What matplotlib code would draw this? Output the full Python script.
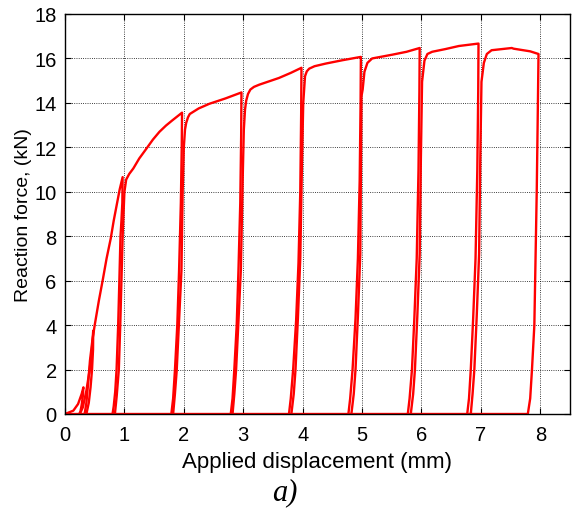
import numpy as np
import matplotlib
matplotlib.use('Agg')
from matplotlib import pyplot as plt

plt.rcParams['font.family'] = ['Liberation Sans', 'DejaVu Sans']

# applied displacement (mm) / reaction force (kN), one list per load cycle
c1_d = [0.00, 0.14, 0.22, 0.28, 0.31, 0.30, 0.28, 0.26, 0.24]
c1_f = [0.00, 0.15, 0.45, 0.90, 1.20, 0.80, 0.40, 0.12, 0.00]

c2_d = [0.25, 0.30, 0.36, 0.41, 0.45, 0.475, 0.472, 0.455, 0.43, 0.40, 0.36]
c2_f = [0.00, 0.30, 1.05, 1.90, 2.80, 3.75, 2.90, 2.00, 1.20, 0.50, 0.00]

c3_d = [0.33, 0.36, 0.39, 0.42, 0.46, 0.50, 0.57, 0.64, 0.70, 0.77, 0.82, 0.87, 0.92, 0.97,
        0.965, 0.95, 0.934, 0.915, 0.895, 0.868, 0.845, 0.82, 0.80]
c3_f = [0.00, 0.50, 1.40, 2.40, 3.30, 4.00, 5.10, 6.10, 7.00, 7.90, 8.70, 9.40, 10.10, 10.66,
        9.50, 8.70, 8.00, 6.00, 4.00, 2.00, 1.00, 0.35, 0.00]

c4_d = [0.84, 0.87, 0.906, 0.93, 0.97, 1.00, 1.03, 1.08, 1.15, 1.25, 1.37, 1.48, 1.59, 1.70, 1.80, 1.97,
        1.965, 1.95, 1.92, 1.89, 1.85, 1.82, 1.79]
c4_f = [0.00, 0.80, 2.00, 4.00, 8.00, 10.00, 10.55, 10.80, 11.05, 11.50, 11.94, 12.35, 12.70, 12.98, 13.20, 13.56,
        12.00, 9.50, 6.45, 4.00, 1.95, 0.70, 0.00]

c5_d = [1.82, 1.85, 1.88, 1.92, 1.96, 1.98, 2.00, 2.02, 2.04, 2.07, 2.10, 2.25, 2.43, 2.70, 2.97,
        2.965, 2.95, 2.92, 2.89, 2.85, 2.82, 2.79]
c5_f = [0.00, 0.90, 1.95, 4.20, 6.45, 10.00, 12.00, 12.80, 13.10, 13.35, 13.50, 13.75, 13.96, 14.20, 14.47,
        12.50, 9.50, 6.50, 4.00, 2.00, 0.70, 0.00]

c6_d = [2.82, 2.85, 2.88, 2.92, 2.96, 2.99, 3.01, 3.03, 3.05, 3.08, 3.12, 3.18, 3.27, 3.60, 3.80, 3.98,
        3.975, 3.96, 3.93, 3.89, 3.84, 3.80, 3.77]
c6_f = [0.00, 0.90, 2.00, 4.20, 6.50, 10.50, 12.80, 13.70, 14.10, 14.40, 14.60, 14.72, 14.82, 15.12, 15.35, 15.58,
        13.50, 10.00, 6.80, 4.20, 2.00, 0.70, 0.00]

c7_d = [3.81, 3.85, 3.88, 3.92, 3.96, 3.99, 4.01, 4.04, 4.07, 4.11, 4.20, 4.39, 4.67, 4.98,
        4.975, 4.96, 4.93, 4.89, 4.84, 4.80, 4.77]
c7_f = [0.00, 0.90, 2.00, 4.30, 7.00, 11.50, 14.00, 15.20, 15.42, 15.54, 15.65, 15.77, 15.92, 16.07,
        14.00, 10.50, 7.00, 4.30, 2.00, 0.70, 0.00]

c8_d = [4.82, 4.86, 4.89, 4.93, 4.97, 4.99, 5.01, 5.04, 5.09, 5.17, 5.51, 5.75, 5.97,
        5.965, 5.95, 5.92, 5.88, 5.84, 5.80, 5.77]
c8_f = [0.00, 0.90, 2.00, 4.40, 7.20, 14.30, 14.60, 15.40, 15.80, 16.00, 16.17, 16.30, 16.47,
        14.50, 11.00, 7.00, 4.30, 2.00, 0.70, 0.00]

c9_d = [5.82, 5.86, 5.89, 5.93, 5.97, 5.99, 6.01, 6.05, 6.10, 6.18, 6.40, 6.63, 6.96,
        6.955, 6.94, 6.91, 6.87, 6.83, 6.80, 6.77]
c9_f = [0.00, 0.90, 2.00, 4.40, 7.20, 11.50, 14.95, 15.90, 16.20, 16.30, 16.42, 16.56, 16.67,
        14.50, 11.00, 7.00, 4.30, 2.00, 0.70, 0.00]

c10_d = [6.83, 6.86, 6.89, 6.93, 6.97, 6.99, 7.01, 7.05, 7.10, 7.18, 7.35, 7.52, 7.55, 7.83, 7.97,
         7.955, 7.94, 7.92, 7.90, 7.86, 7.83, 7.79, 0.00]
c10_f = [0.00, 0.90, 2.00, 4.40, 7.20, 11.50, 14.95, 15.80, 16.20, 16.37, 16.42, 16.47, 16.44, 16.32, 16.20,
         13.00, 10.00, 7.00, 4.00, 2.00, 0.70, 0.00, 0.00]

cycles = [(c1_d, c1_f), (c2_d, c2_f), (c3_d, c3_f), (c4_d, c4_f), (c5_d, c5_f),
          (c6_d, c6_f), (c7_d, c7_f), (c8_d, c8_f), (c9_d, c9_f), (c10_d, c10_f)]

x_ticks = [0, 1, 2, 3, 4, 5, 6, 7, 8]
y_ticks = [0, 2, 4, 6, 8, 10, 12, 14, 16, 18]

fig = plt.figure(figsize=(5.72, 5.10), dpi=100)
ax = fig.add_axes([65/572, 95/510, 505/572, 400/510])

for d, f in cycles:
    ax.plot(d, f, color='red', linewidth=1.7)

ax.set_xlim(0, 8.5)
ax.set_ylim(0, 18)
ax.set_xticks(x_ticks)
ax.set_yticks(y_ticks)
ax.grid(True, color='k', linestyle=':', linewidth=0.6)
ax.tick_params(direction='in', top=True, right=True, length=4, labelsize=14.5)
ax.tick_params(axis='x', pad=8)
ax.tick_params(axis='y', pad=6)
for s in ax.spines.values():
    s.set_linewidth(1.0)

ax.set_xlabel('Applied displacement (mm)', fontsize=16, labelpad=5)
ax.set_ylabel('Reaction force, (kN)', fontsize=14, labelpad=2)

fig.text(0.498, 0.034, 'a)', fontsize=22, style='italic', family='Liberation Serif',
         ha='center', va='center')

fig.savefig('out.png', dpi=100)
